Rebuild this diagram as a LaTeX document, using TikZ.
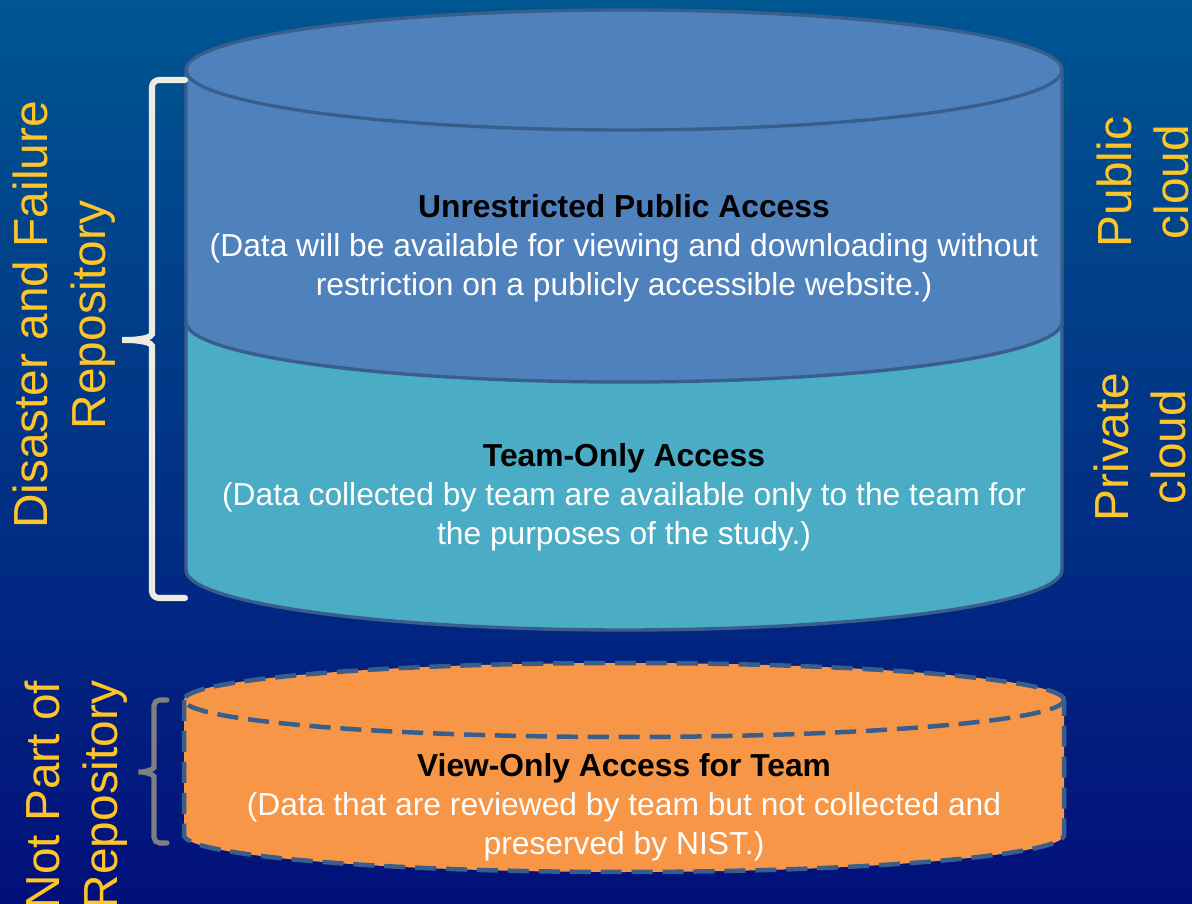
\documentclass[tikz,border=0pt]{standalone}
\usepackage{fontspec}
\setmainfont{Liberation Sans}
\usepackage{tikz}
\usetikzlibrary{positioning}
\definecolor{pubblue}{RGB}{79,129,189}
\definecolor{privteal}{RGB}{75,172,198}
\definecolor{viewor}{RGB}{247,150,70}
\definecolor{rimblue}{RGB}{58,94,140}
\definecolor{labelyel}{RGB}{255,196,40}
\definecolor{bracecream}{RGB}{238,236,225}
\definecolor{bracegray}{RGB}{127,127,127}
\definecolor{bgtop}{RGB}{0,86,145}
\definecolor{bgmid}{RGB}{0,50,138}
\definecolor{bgbot}{RGB}{2,16,122}

\begin{document}
\begin{tikzpicture}[x=0.025cm,y=0.025cm,
		tiertext/.style={text=white, align=center, font=\fontsize{22.6}{27.7}\selectfont},
		sidelabel/.style={text=labelyel, align=center, rotate=90, font=\fontsize{34}{41}\selectfont},
		rim/.style={draw=rimblue, line width=2.4pt},
		dashrim/.style={draw=rimblue, line width=3.2pt, dash pattern=on 15pt off 7pt}]
		\useasboundingbox (0,0) rectangle (1192,903);
		%% Background
		\fill[top color=bgtop, middle color=bgmid, bottom color=bgbot] (0,0) rectangle (1192,903);

		%% Repository cylinder: private part first, public part over it
		\filldraw[fill=privteal, rim] (186,581) -- (186,333)
			arc[start angle=180, end angle=360, x radius=438, y radius=60] -- (1062,581);
		\filldraw[fill=pubblue, rim] (186,833) -- (186,581)
			arc[start angle=180, end angle=360, x radius=438, y radius=60] -- (1062,833);
		\filldraw[fill=pubblue, rim] (624,833) ellipse [x radius=438, y radius=60];

		% View-only cylinder, dashed
		\fill[viewor] (184,203) -- (184,68)
			arc[start angle=180, end angle=360, x radius=440, y radius=37] -- (1064,203) -- cycle;
		\fill[viewor] (624,203) ellipse [x radius=440, y radius=37];
		\draw[dashrim] (184,203) -- (184,68)
			arc[start angle=180, end angle=360, x radius=440, y radius=37] -- (1064,203);
		\draw[dashrim] (624,203) ellipse [x radius=440, y radius=37];

		%% Texts in the cylinders
		\node[tiertext] (pubtext) at (624,655) {{\color{black}\bfseries Unrestricted Public Access}\\
			(Data will be available for viewing and downloading without\\
			restriction on a publicly accessible website.)};
		\node[tiertext] (privtext) at (624,406) {{\color{black}\bfseries Team-Only Access}\\
			(Data collected by team are available only to the team for\\
			the purposes of the study.)};
		\node[tiertext] (viewtext) at (624,96) {{\color{black}\bfseries View-Only Access for Team}\\
			(Data that are reviewed by team but not collected and\\
			preserved by NIST.)};

		%% Braces
		\draw[bracecream, line width=4.3pt, line cap=round, rounded corners=5pt]
			(185,823) -- (152,823) -- (152,576) .. controls (152,566) and (142,563) .. (118,563)
			.. controls (142,563) and (152,560) .. (152,550) -- (152,305) -- (185,305);
		\draw[bracegray, line width=3.6pt, line cap=round, rounded corners=4pt]
			(167,203) -- (154,203) -- (154,141) .. controls (154,134) and (146,131) .. (135,131)
			.. controls (146,131) and (154,128) .. (154,121) -- (154,60) -- (167,60);

		% Side labels
		\node[sidelabel] (repo) at (64,588) {Disaster and Failure\\Repository};
		\node[sidelabel] (notrepo) at (76,108) {Not Part of\\Repository};
		\node[sidelabel] (pubcloud) at (1143,721) {Public\\cloud};
		\node[sidelabel] (privcloud) at (1140,456) {Private\\cloud};
	\end{tikzpicture}
\end{document}
